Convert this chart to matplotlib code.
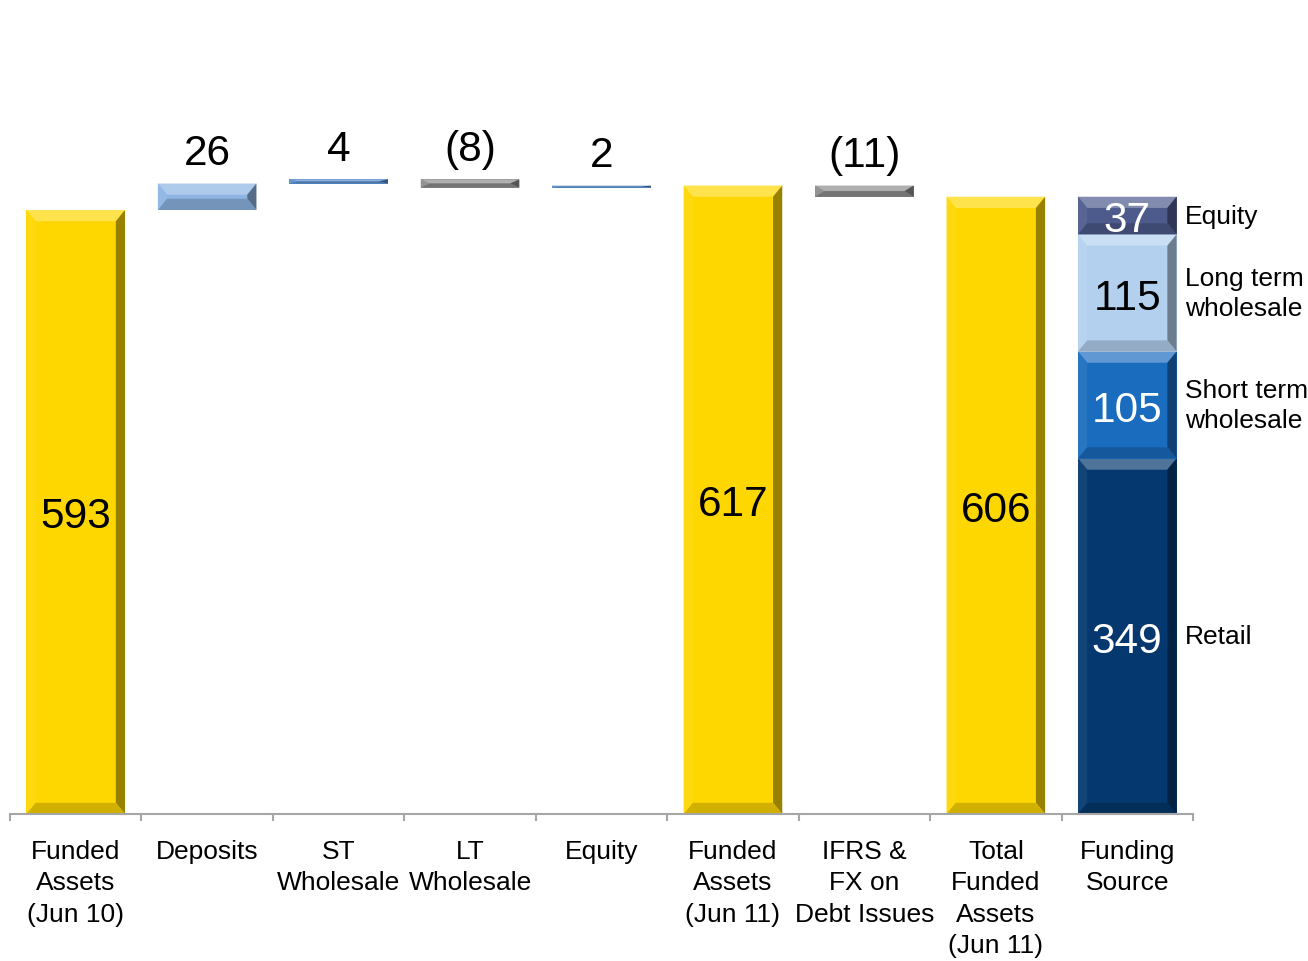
import matplotlib
matplotlib.use("Agg")
import matplotlib.pyplot as plt
from matplotlib.patches import Rectangle, Polygon
from matplotlib.colors import to_rgb

plt.rcParams['font.family'] = ['Liberation Sans', 'DejaVu Sans']

# =====================
# data
# =====================
categories = ["Funded\nAssets\n(Jun 10)", "Deposits", "ST\nWholesale", "LT\nWholesale",
              "Equity", "Funded\nAssets\n(Jun 11)", "IFRS &\nFX on\nDebt Issues",
              "Total\nFunded\nAssets\n(Jun 11)", "Funding\nSource"]
kinds = ["total", "delta", "delta", "delta", "delta", "total", "delta", "total", "stack"]
values = [593, 26, 4, -8, 2, 617, -11, 606, None]
bar_colors = ["#FFD700", "#8DB4E2", "#5B8FCB", "#8C8C8C", "#5B8FCB",
              "#FFD700", "#8C8C8C", "#FFD700", None]

funding_names = ["Retail", "Short term\nwholesale", "Long term\nwholesale", "Equity"]
funding_values = [349, 105, 115, 37]
funding_colors = ["#04386E", "#1A6CBE", "#B3D0EF", "#4D5A8C"]
funding_text = ["white", "white", "black", "white"]

BAR_W = 0.75


def mix(c, other, t):
    c = to_rgb(c)
    o = to_rgb(other)
    return tuple(c[i] * (1 - t) + o[i] * t for i in range(3))


def bevel_bar(ax, x, y0, y1, color):
    lo, hi = min(y0, y1), max(y0, y1)
    left, right = x - BAR_W / 2, x + BAR_W / 2
    bx = 0.07
    by = min(11, (hi - lo) / 2)
    ax.add_patch(Rectangle((left, lo), BAR_W, hi - lo, facecolor=color, edgecolor="none"))
    # top, left, right, bottom bevel faces
    faces = [
        ([(left, hi), (right, hi), (right - bx, hi - by), (left + bx, hi - by)], mix(color, "white", 0.3)),
        ([(left, lo), (left, hi), (left + bx, hi - by), (left + bx, lo + by)], mix(color, "white", 0.06)),
        ([(right, lo), (right, hi), (right - bx, hi - by), (right - bx, lo + by)], mix(color, "black", 0.4)),
        ([(left, lo), (right, lo), (right - bx, lo + by), (left + bx, lo + by)], mix(color, "black", 0.18)),
    ]
    for pts, fc in faces:
        ax.add_patch(Polygon(pts, closed=True, facecolor=fc, edgecolor="none"))


fig = plt.figure(figsize=(13.08, 9.62), dpi=100)
ax = fig.add_axes([10 / 1308, 147 / 962, 1183 / 1308, 713 / 962])

running = 0
for i, (kind, val, col) in enumerate(zip(kinds, values, bar_colors)):
    if kind == "total":
        running = val
        bevel_bar(ax, i, 0, val, col)
        ax.text(i, val / 2, f"{val}", ha="center", va="center_baseline", fontsize=30.5, color="black")
    elif kind == "delta":
        start = running
        running = running + val
        bevel_bar(ax, i, start, running, col)
        lab = f"{val}" if val >= 0 else f"({-val})"
        ax.annotate(lab, (i, max(start, running)), xytext=(0, 14), textcoords="offset points",
                    ha="center", va="baseline", fontsize=30.5)
    else:
        bottom = 0
        for name, v, c, tc in zip(funding_names, funding_values, funding_colors, funding_text):
            bevel_bar(ax, i, bottom, bottom + v, c)
            mid = bottom + v / 2
            ax.text(i, mid, f"{v}", ha="center", va="center_baseline", fontsize=30.5, color=tc)
            ax.annotate(name, (i + BAR_W / 2, mid), xytext=(6, 0), textcoords="offset points",
                        ha="left", va="center", fontsize=19, linespacing=1.3,
                        annotation_clip=False)
            bottom += v

ax.set_xlim(-0.5, len(categories) - 0.5)
ax.set_ylim(0, 700)

for s in ["top", "right", "left"]:
    ax.spines[s].set_visible(False)
ax.spines["bottom"].set_color("#A6A6A6")
ax.spines["bottom"].set_linewidth(1.5)
ax.set_yticks([])

ax.set_xticks([i - 0.5 for i in range(len(categories) + 1)])
ax.set_xticklabels([])
ax.tick_params(axis="x", which="major", direction="out", length=5, width=1.5, color="#A6A6A6")
ax.set_xticks(range(len(categories)), minor=True)
ax.set_xticklabels(categories, minor=True, fontsize=19, linespacing=1.39)
ax.tick_params(axis="x", which="minor", length=0, pad=18)

fig.savefig("out.png", dpi=100)
